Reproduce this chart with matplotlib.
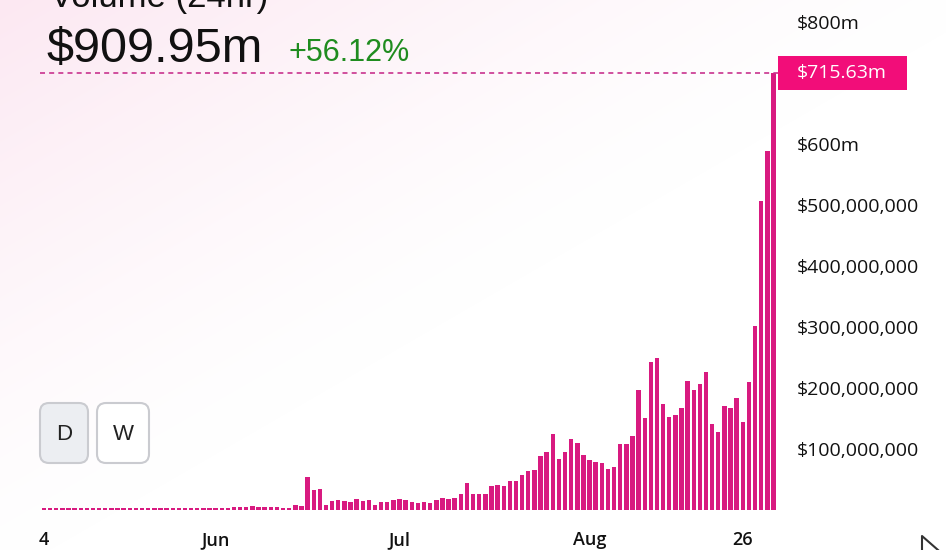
import numpy as np
import pandas as pd
import matplotlib
matplotlib.use("Agg")
import matplotlib.pyplot as plt
import matplotlib.dates as mdates
import matplotlib.transforms as mtrans
from matplotlib.patches import FancyBboxPatch, Rectangle
from matplotlib.lines import Line2D

# ---- data (daily volume, $ millions) ----
start_day = "2024-05-04"
volume_m = [
    3.2, 3.0, 3.3, 3.1, 3.0, 3.2, 3.4, 3.0, 3.1, 3.3, 3.2, 3.0, 3.0, 3.1, 3.3, 3.2, 3.4, 3.1, 3.0, 3.2, 3.3,
    3.5, 3.6, 3.8, 3.6, 3.5, 3.7, 3.9, 3.6, 3.8, 4.0,
    4.1, 4.3, 5.0, 5.8, 5.2, 4.1, 4.4, 4.6,
    4, 4, 8, 6, 54, 32, 34, 9, 14, 16, 14, 13, 18, 14, 16, 9, 13, 13, 16, 18, 16, 13, 11, 13, 11,
    16, 19, 18, 19, 27, 44, 26, 27, 26, 39, 41, 39, 47, 47, 57, 64, 65, 89, 95, 125, 84, 95, 117,
    110, 90, 82, 79, 77, 67, 70, 108, 108, 122,
    197, 151, 242, 249, 174, 153, 156, 168, 212, 197, 206, 227, 141, 128, 171, 168, 183, 145, 210,
    302, 507, 589, 715.63,
]
dates = pd.date_range(start_day, periods=len(volume_m), freq="D")

ytick_vals = [100, 200, 300, 400, 500, 600, 800]
ytick_labels = ["$100,000,000", "$200,000,000", "$300,000,000", "$400,000,000",
                "$500,000,000", "$600m", "$800m"]
xtick_dates = ["2024-05-04", "2024-06-01", "2024-07-01", "2024-08-01", "2024-08-26"]
xtick_labels = ["4", "Jun", "Jul", "Aug", "26"]

title = "Volume (24hr)"
headline = "$909.95m"
change = "+56.12%"
last_label = "$715.63m"

W, H = 946, 550
fig = plt.figure(figsize=(W / 100, H / 100), dpi=100)
fig.patch.set_facecolor("white")

# soft pink wash in the top-left corner
bg = fig.add_axes([0, 0, 1, 1], zorder=-5)
yy, xx = np.mgrid[0:H, 0:W]
w = np.clip(1 - (xx / 900.0) * 0.9 - (yy / 520.0) * 0.9, 0, 1) ** 1.3
pink = np.array([252, 232, 242]) / 255.0
img = np.ones((H, W, 3)) * (1 - w[..., None]) + pink * w[..., None]
bg.imshow(img, aspect="auto", extent=[0, 1, 0, 1])
bg.axis("off")

# ---- main chart ----
px_per_m = 0.61
ax = fig.add_axes([40 / W, 40 / H, 738 / W, 510 / H])
ax.patch.set_alpha(0)
d0 = mdates.date2num(dates[0])
ax.set_xlim(d0 - 0.65, d0 + 119.74)
ax.set_ylim(0, 510 / px_per_m)

ax.bar(dates, volume_m, width=0.72, color="#d81a80", zorder=2)

last = volume_m[-1]
ax.axhline(last, color="#c9338e", lw=1.2, ls=(0, (3, 2.5)), zorder=3)

for s in ax.spines.values():
    s.set_visible(False)

ax.yaxis.tick_right()
ax.set_yticks(ytick_vals)
ax.set_yticklabels(ytick_labels)
ax.tick_params(axis="y", length=0, pad=13.5, labelsize=14, labelcolor="#111111")
for t in ax.get_yticklabels():
    t.set_fontfamily("Open Sans")

ax.set_xticks([mdates.date2num(pd.Timestamp(d)) for d in xtick_dates])
ax.set_xticklabels(xtick_labels)
ax.tick_params(axis="x", length=0, pad=15, labelsize=13, labelcolor="#111111")
for t in ax.get_xticklabels():
    t.set_fontfamily("Open Sans")
    t.set_fontweight("semibold")

# last value tag
blend = mtrans.blended_transform_factory(ax.transAxes, ax.transData)
ax.add_patch(Rectangle((1.0, last - 17 / px_per_m), 129 / 738, 34 / px_per_m,
                       transform=blend, facecolor="#f20d79", edgecolor="none",
                       clip_on=False, zorder=5))
ax.text(1.0 + 19 / 738, last, last_label, transform=blend, color="white",
        fontsize=14, family="Open Sans", va="center", ha="left", zorder=6)

# ---- header texts (title is cut by the top edge, as in the source) ----
fig.text(50 / W, 1 - 7 / H, title, fontsize=25, family="Liberation Sans",
         va="baseline", color="#111111")
fig.text(47 / W, 1 - 62 / H, headline, fontsize=35, family="Liberation Sans",
         va="baseline", color="#111111")
fig.text(288 / W, 1 - 61 / H, change, fontsize=22, family="Liberation Sans",
         va="baseline", color="#1f8c1f")

# ---- D / W buttons ----
pix = mtrans.IdentityTransform()
for (x0, x1, lab, fc) in [(40, 88, "D", "#eceef2"), (97, 149, "W", "#ffffff")]:
    fig.patches.append(FancyBboxPatch((x0, H - 463), x1 - x0, 60,
                                      boxstyle="round,pad=0,rounding_size=9",
                                      transform=pix, facecolor=fc,
                                      edgecolor="#cacbd0", lw=1.5))
    fig.text((x0 + x1) / 2 / W, 1 - 434 / H, lab, fontsize=16,
             family="Liberation Sans", ha="center", va="center", color="#222222")

# partial icon bottom-right
fig.lines.append(Line2D([938, 922, 922], [H - 550, H - 536, H - 550],
                        transform=pix, color="#333333", lw=1.5))

fig.savefig("out.png", dpi=100)
